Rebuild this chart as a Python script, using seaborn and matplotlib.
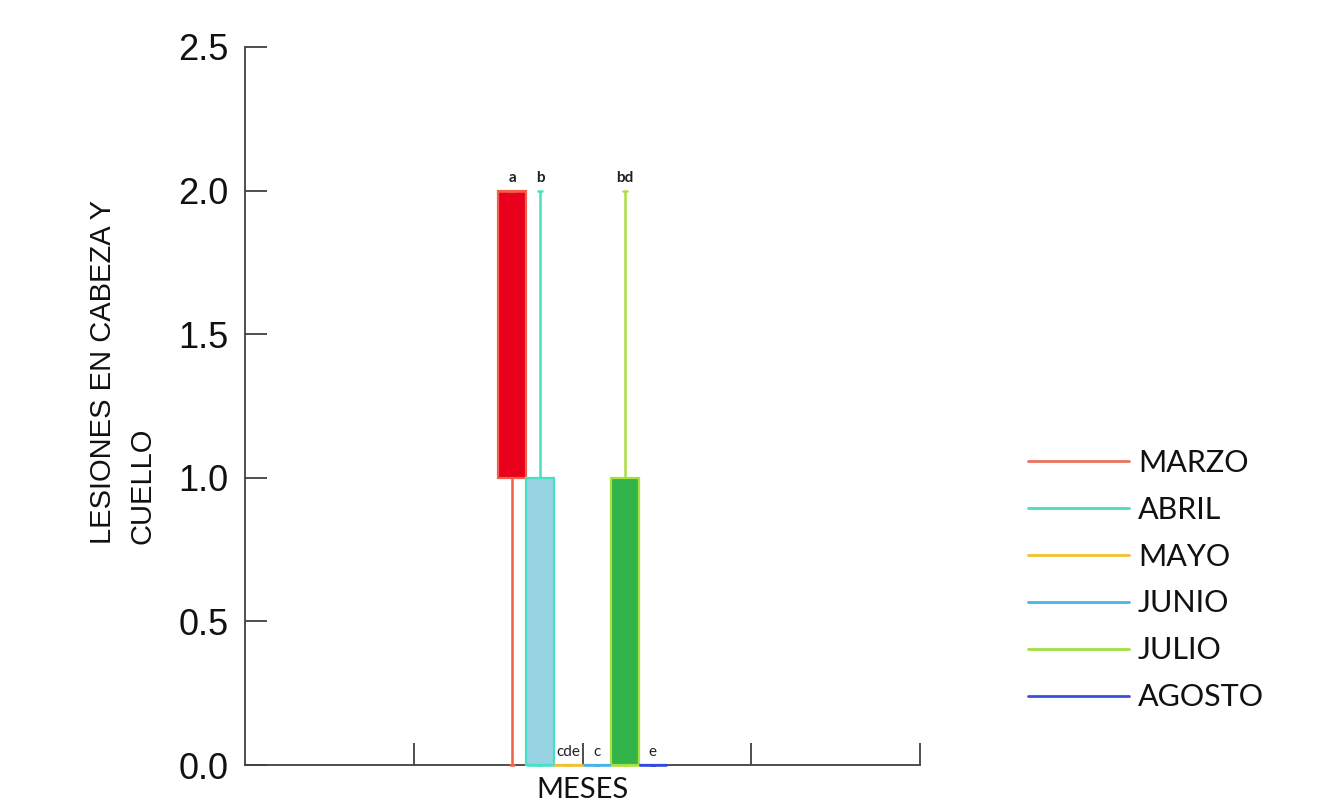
import numpy as np
import pandas as pd
import seaborn as sns
import matplotlib.pyplot as plt
from matplotlib.lines import Line2D

# Monthly observations of head and neck lesions
meses = ["MARZO", "ABRIL", "MAYO", "JUNIO", "JULIO", "AGOSTO"]
marzo = [0, 1, 1, 2, 2, 2, 2]
abril = [0, 0, 0, 0, 1, 1, 2]
mayo = [0, 0, 0, 0, 0, 0, 0]
junio = [0, 0, 0, 0, 0, 0, 0]
julio = [0, 0, 0, 0, 1, 1, 2]
agosto = [0, 0, 0, 0, 0, 0, 0]
letras = ["a", "b", "cde", "c", "bd", "e"]
negrita = [True, True, False, False, True, False]

relleno = ["#e8001c", "#96d3e3", "#f2c440", "#4ab0e8", "#33b44a", "#3048e0"]
borde = ["#f0604a", "#48e0c4", "#f0c030", "#4ab0e8", "#a8e040", "#3048e0"]
leyenda = ["#e8735c", "#48dcc0", "#f0c030", "#4ab4e4", "#a0e040", "#3850e0"]

valores = [marzo, abril, mayo, junio, julio, agosto]
df = pd.DataFrame({
    "grupo": "MESES",
    "mes": np.repeat(meses, [len(v) for v in valores]),
    "valor": np.concatenate(valores),
})

sns.set_style("white")
plt.rcParams["font.family"] = ["Liberation Sans", "DejaVu Sans"]

fig = plt.figure(figsize=(13.34, 8.05), dpi=100)
ax = fig.add_axes([245 / 1334, 1 - 765 / 805, (920 - 245) / 1334, (765 - 47) / 805])

sns.boxplot(
    data=df, x="grupo", y="valor", hue="mes", hue_order=meses,
    palette=dict(zip(meses, relleno)), saturation=1, width=1.0, gap=0,
    dodge=True, whis=1.5, showfliers=False, linewidth=2, legend=False, ax=ax,
)

# Per-month outline colours and very short caps
for cont, col in zip(ax.containers, borde):
    for b in cont.boxes:
        b.set_edgecolor(col)
        b.set_linewidth(1.6)
        b.set_zorder(3)
        b.set_clip_on(False)
    for ln in list(cont.whiskers) + list(cont.medians) + list(cont.caps):
        ln.set_color(col)
        ln.set_linewidth(1.8)
        ln.set_zorder(3.2)
        ln.set_clip_on(False)
    for cap in cont.caps:
        xd = np.asarray(cap.get_xdata(), dtype=float)
        c = xd.mean()
        cap.set_xdata([c - 0.012, c + 0.012])

# Significance letters above each month
n = len(meses)
offsets = (np.arange(n) - (n - 1) / 2) / n
for off, v, txt, bold in zip(offsets, valores, letras, negrita):
    ax.text(off, max(v) + 0.02, txt, ha="center", va="bottom",
            fontsize=11, family=["Lato", "DejaVu Sans"],
            fontweight="bold" if bold else "normal", color="#202020")

ax.set_xlim(-2, 2)
ax.set_ylim(0, 2.5)
ax.set_xticks([-1, 0, 1, 2])
ax.set_xticklabels(["", "", "", ""])
ax.set_yticks([0, 0.5, 1.0, 1.5, 2.0, 2.5])
ax.set_yticklabels(["0.0", "0.5", "1.0", "1.5", "2.0", "2.5"])
ax.tick_params(axis="both", direction="in", length=16, width=1.3,
               color="#404040", bottom=True, left=True)
ax.tick_params(axis="y", labelsize=26, pad=12, labelcolor="#111111")

for s in ["top", "right"]:
    ax.spines[s].set_visible(False)
for s in ["left", "bottom"]:
    ax.spines[s].set_color("#404040")
    ax.spines[s].set_linewidth(1.3)
    ax.spines[s].set_zorder(2)

ax.set_xlabel("MESES", fontsize=21, family=["Lato", "DejaVu Sans"],
              color="#111111", labelpad=5)
ax.set_ylabel("LESIONES EN CABEZA Y\nCUELLO", fontsize=21, color="#111111",
              linespacing=1.5, multialignment="left")
ax.yaxis.set_label_coords((156 - 245) / 675, (765 - 371.5) / 718)

handles = [Line2D([], [], color=c, lw=2) for c in leyenda]
fig.legend(handles, meses, loc="center left", bbox_to_anchor=(1028 / 1334, 1 - 580 / 805),
           frameon=False, handlelength=3.3, handletextpad=0.3,
           labelspacing=0.62, borderpad=0, borderaxespad=0,
           labelcolor="#111111",
           prop={"family": ["Lato", "DejaVu Sans"], "size": 22})

fig.savefig("out.png", dpi=100, facecolor="white")
